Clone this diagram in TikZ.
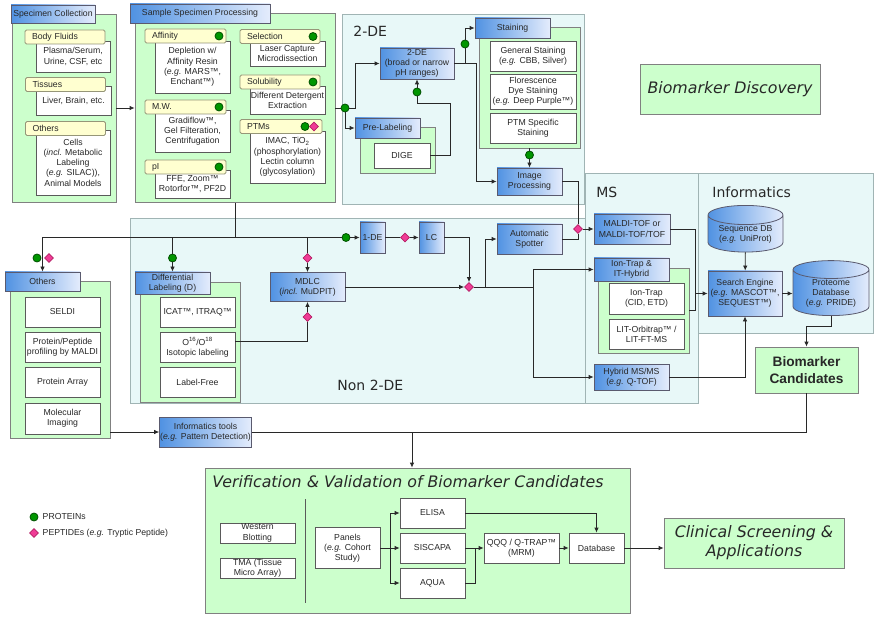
\documentclass[tikz,border=0pt]{standalone}
\usepackage{fontspec}
\setmainfont{Liberation Sans}
\newfontfamily\titlefont{DejaVu Sans}
\usepackage{tikz}
\usetikzlibrary{shapes.geometric, positioning}
\usetikzlibrary{arrows.meta}

\definecolor{grpfill}{RGB}{204,255,204}
\definecolor{grpline}{RGB}{128,128,128}
\definecolor{regfill}{RGB}{232,248,248}
\definecolor{regline}{RGB}{160,180,180}
\definecolor{hdrblue}{RGB}{80,146,226}
\definecolor{hdrlight}{RGB}{228,236,252}
\definecolor{hdrline}{RGB}{90,90,110}
\definecolor{boxline}{RGB}{90,90,90}
\definecolor{tagfill}{RGB}{255,255,208}
\definecolor{tagline}{RGB}{150,150,120}
\definecolor{protfill}{RGB}{0,150,0}
\definecolor{protline}{RGB}{0,80,0}
\definecolor{peptfill}{RGB}{240,60,150}
\definecolor{peptline}{RGB}{180,30,100}
\definecolor{linecol}{RGB}{40,40,40}

\tikzset{
  reg/.style 2 args={draw=regline, fill=regfill, minimum width=#1, minimum height=#2, inner sep=0pt},
  grp/.style 2 args={draw=grpline, fill=grpfill, minimum width=#1, minimum height=#2, inner sep=0pt},
  hdr/.style 2 args={draw=hdrline, left color=hdrblue, right color=hdrlight, minimum width=#1, minimum height=#2, inner sep=0.5pt, align=center},
  wbox/.style 2 args={draw=boxline, fill=white, minimum width=#1, minimum height=#2, inner sep=0.5pt, align=center},
  tag/.style={draw=tagline, fill=tagfill, rounded corners=1.5pt, minimum height=14pt, inner ysep=0pt, inner xsep=7pt, text width=#1, align=left},
  prot/.style={circle, draw=protline, fill=protfill, minimum size=8pt, inner sep=0pt},
  pept/.style={diamond, draw=peptline, fill=peptfill, minimum size=9pt, inner sep=0pt},
  dbase/.style 2 args={cylinder, shape border rotate=90, aspect=0.35, draw=hdrline, left color=hdrblue, right color=hdrlight, minimum width=#1, minimum height=#2, inner sep=0.5pt, align=center},
  ttl/.style={font=\titlefont\fontsize{14}{16}\selectfont, anchor=west, inner sep=0pt},
  bigbox/.style 2 args={draw=grpline, fill=grpfill, minimum width=#1, minimum height=#2, align=center, font=\titlefont\itshape\fontsize{15.8}{19}\selectfont}
}

\begin{document}
\begin{tikzpicture}[x=1pt, y=-1pt, color=linecol, line width=0.8pt,
    font=\fontsize{8.7}{10.2}\selectfont, >={Latex[length=5pt, width=4.5pt]}]
    \useasboundingbox (0,0) rectangle (878,620);

    \node[reg={242}{190}] (r2de) at (463,109) {};
    \node[reg={455}{185}] (rnon) at (357.5,310.5) {};
    \node[reg={113}{230}] (rms) at (641.5,288) {};
    \node[reg={175}{160}] (rinf) at (785.5,253) {};
    \node[ttl] (t2de) at (353,31) {2-DE};
    \node[ttl] (tnon) at (337,385) {Non 2-DE};
    \node[ttl] (tms) at (596,192) {MS};
    \node[ttl] (tinf) at (712,192) {Informatics};

    % specimen collection
    \node[grp={104}{188}] (scpanel) at (64,108) {};
    \node[hdr={84}{18}] (schdr) at (53,14) {Specimen Collection};
    \node[wbox={74}{31}] (bfbox) at (73,56.5) {Plasma/Serum,\\Urine, CSF, etc};
    \node[tag=66pt] (bftag) at (65,37) {Body Fluids};
    \node[wbox={75}{29}] (tisbox) at (73.5,100.5) {Liver, Brain, etc.};
    \node[tag=66pt] (tistag) at (65.5,84.5) {Tissues};
    \node[wbox={74}{65}] (cellbox) at (73,162.5) {Cells\\(\textit{incl.} Metabolic\\Labeling\\(\textit{e.g.} SILAC)),\\Animal Models};
    \node[tag=66pt] (celltag) at (65.5,128.5) {Others};

    % sample specimen processing
    \node[grp={200}{189}] (sppanel) at (235,108) {};
    \node[hdr={140}{19}] (sphdr) at (200,13.5) {Sample Specimen Processing};
    \node[wbox={75}{52}] (afbox) at (192.5,67) {Depletion w/\\Affinity Resin\\(\textit{e.g.} MARS™,\\Enchant™)};
    \node[tag=67pt] (aftag) at (185.5,36) {Affinity};
    \node[wbox={75}{42}] (mwbox) at (192.5,131) {Gradiflow™,\\Gel Filteration,\\Centrifugation};
    \node[tag=67pt] (mwtag) at (185.5,107) {M.W.};
    \node[wbox={75}{28}] (pibox) at (192.5,184) {FFE, Zoom™\\Rotorfor™, PF2D};
    \node[tag=67pt] (pitag) at (185.5,167) {pI};
    \node[wbox={75}{25}] (selbox) at (287.5,53.5) {Laser Capture\\Microdissection};
    \node[tag=66pt] (seltag) at (280,36.5) {Selection};
    \node[wbox={75}{28}] (solbox) at (287.5,100) {Different Detergent\\Extraction};
    \node[tag=66pt] (soltag) at (280,82) {Solubility};
    \node[wbox={75}{52}] (ptmbox) at (287.5,157) {IMAC, TiO\textsubscript{2}\\(phosphorylation)\\Lectin column\\(glycosylation)};
    \node[tag=68pt] (ptmtag) at (281,126.5) {PTMs};
    \node[prot] (afdot) at (219,36) {};
    \node[prot] (mwdot) at (219,107) {};
    \node[prot] (pidot) at (219,167) {};
    \node[prot] (seldot) at (313,36.5) {};
    \node[prot] (soldot) at (313,82) {};
    \node[prot] (ptmdot) at (305,126.5) {};
    \node[pept] (ptmpep) at (314,126.5) {};

    % 2-DE
    \node[hdr={74}{31}] (de2) at (417,63.5) {2-DE\\(broad or narrow\\pH ranges)};
    \node[grp={75}{46}] (prpanel) at (397.5,150) {};
    \node[hdr={65}{20}] (prhdr) at (387.5,128) {Pre-Labeling};
    \node[wbox={56}{25}] (dige) at (402,155.5) {DIGE};
    \node[grp={101}{121}] (stpanel) at (529.5,87.5) {};
    \node[hdr={75}{20}] (sthdr) at (512.5,28) {Staining};
    \node[wbox={86}{30}] (genst) at (533,56) {General Staining\\(\textit{e.g.} CBB, Silver)};
    \node[wbox={86}{35}] (flost) at (533,91.5) {Florescence\\Dye Staining\\(\textit{e.g.} Deep Purple™)};
    \node[wbox={86}{30}] (ptmst) at (533,128) {PTM Specific\\Staining};
    \node[hdr={65}{27}] (imgbox) at (529.5,181.5) {Image\\Processing};
    \node[prot] (dot2a) at (345,108) {};
    \node[prot] (dot2b) at (417,92) {};
    \node[prot] (dot2c) at (465,44) {};
    \node[prot] (dot2d) at (529.5,155) {};

    % non 2-DE
    \node[grp={100}{157}] (othpanel) at (60,359.5) {};
    \node[hdr={75}{19}] (othhdr) at (42.5,281.5) {Others};
    \node[wbox={75}{30}] (seldi) at (62.5,312) {SELDI};
    \node[wbox={75}{30}] (ppmaldi) at (62.5,347) {Protein/Peptide\\profiling by MALDI};
    \node[wbox={75}{30}] (parray) at (62.5,382) {Protein Array};
    \node[wbox={75}{31}] (molim) at (62.5,418.5) {Molecular\\Imaging};
    \node[grp={100}{120}] (dlpanel) at (190,342) {};
    \node[hdr={75}{22}] (dlhdr) at (172.5,283) {Differential\\Labeling (D)};
    \node[wbox={75}{30}] (icat) at (197.5,312) {ICAT™, ITRAQ™};
    \node[wbox={75}{30}] (o16) at (197.5,347) {O\textsuperscript{16}/O\textsuperscript{18}\\Isotopic labeling};
    \node[wbox={75}{30}] (lfree) at (197.5,382) {Label-Free};
    \node[hdr={75}{29}] (mdlc) at (307.5,287) {MDLC\\(\textit{incl.} MuDPIT)};
    \node[hdr={25}{31}] (de1) at (372.5,237.5) {1-DE};
    \node[hdr={25}{31}] (lc) at (431.5,237.5) {LC};
    \node[hdr={65}{30}] (spot) at (529.5,239) {Automatic\\Spotter};
    \node[prot] (othdot) at (37,258) {};
    \node[pept] (othpep) at (49,258) {};
    \node[prot] (dldot) at (172.5,258) {};
    \node[pept] (mdpep) at (307.5,258) {};
    \node[pept] (mdpep2) at (307.5,317) {};
    \node[prot] (de1dot) at (346,237.5) {};
    \node[pept] (lcpep) at (405,237.5) {};
    \node[pept] (nonpep) at (469,287) {};
    \node[pept] (mspep) at (578,229) {};

    % MS and informatics
    \node[hdr={76}{30}] (maldi) at (632,229) {MALDI-TOF or\\MALDI-TOF/TOF};
    \node[grp={91}{85}] (itpanel) at (643.5,310.5) {};
    \node[hdr={75}{23}] (ithdr) at (631.5,269.5) {Ion-Trap \&\\IT-Hybrid};
    \node[wbox={75}{31}] (iontrap) at (646.5,298.5) {Ion-Trap\\(CID, ETD)};
    \node[wbox={75}{30}] (lit) at (646.5,334) {LIT-Orbitrap™ /\\LIT-FT-MS};
    \node[hdr={75}{26}] (hyb) at (631.5,377) {Hybrid MS/MS\\(\textit{e.g.} Q-TOF)};
    \node[dbase={75}{41}] (seqdb) at (745.5,234.5) {Sequence DB\\(\textit{e.g.} UniProt)};
    \node[hdr={74}{45}] (search) at (745,293.5) {Search Engine\\(\textit{e.g.} MASCOT™,\\SEQUEST™)};
    \node[dbase={76}{53}] (protdb) at (831,293.5) {Proteome\\Database\\(\textit{e.g.} PRIDE)};
    \node[grp={103}{46}, align=center, font=\bfseries\fontsize{13.7}{17}\selectfont] (biocand) at (806.5,370) {Biomarker\\Candidates};
    \node[bigbox={180}{50}] (biodisc) at (730,89) {Biomarker Discovery};
    \node[hdr={91}{30}] (infotools) at (205.5,432) {Informatics tools\\(\textit{e.g.} Pattern Detection)};

    % verification
    \node[grp={425}{145}] (vv) at (417.5,540.5) {};
    \node[ttl, font=\titlefont\itshape\fontsize{15.8}{19}\selectfont] (tvv) at (212,482) {Verification \& Validation of Biomarker Candidates};
    \node[wbox={75}{20}] (wblot) at (257.5,533) {Western\\Blotting};
    \node[wbox={75}{20}] (tma) at (257.5,568) {TMA (Tissue\\Micro Array)};
    \draw[boxline] (305,499) -- (305,603);
    \node[wbox={65}{41}] (panels) at (347.5,548) {Panels\\(\textit{e.g.} Cohort\\Study)};
    \node[wbox={65}{30}] (elisa) at (432.5,513) {ELISA};
    \node[wbox={65}{30}] (siscapa) at (432.5,548) {SISCAPA};
    \node[wbox={65}{30}] (aqua) at (432.5,583) {AQUA};
    \node[wbox={75}{30}] (qqq) at (521.5,548) {QQQ / Q-TRAP™\\(MRM)};
    \node[wbox={55}{30}] (dbv) at (596.5,548) {Database};
    \node[bigbox={180}{50}] (clin) at (754,543) {Clinical Screening \&\\Applications};

    \node[prot] (legprot) at (34,517) {};
    \node[anchor=west] (legprottxt) at (39,517) {PROTEINs};
    \node[pept] (legpept) at (34,533) {};
    \node[anchor=west] (legpepttxt) at (39,533) {PEPTIDEs (\textit{e.g.} Tryptic Peptide)};

    % connectors
    \draw[->] (scpanel) -- (sppanel);
    \draw (sppanel) -- (dot2a);
    \draw[->] (dot2a) -- ++(10,0) |- (de2);
    \draw[->] (dot2a) |- (prhdr);
    \coordinate (k1) at (450,103);
    \draw (dige) -| (k1) -| (dot2b);
    \draw[->] (dot2b) -- (de2);
    \coordinate (k2) at (476,63.5);
    \draw[->] (de2) -- (k2) |- (imgbox);
    \draw (dot2c |- de2) -- (dot2c);
    \draw[->] (dot2c) |- (sthdr);
    \draw (stpanel) -- (dot2d);
    \draw[->] (dot2d) -- (imgbox);
    \draw (imgbox) -| (mspep);
    \draw (spot) -| (mspep);
    \draw[->] (mspep) -- (maldi);

    \coordinate (k3) at (235,237.5);
    \coordinate (k4) at (42.5,237.5);
    \draw (sppanel) -- (k3);
    \draw (k4) -- (de1dot);
    \draw[->] (k4) -- (othhdr);
    \draw (dldot |- k4) -- (dldot);
    \draw[->] (dldot) -- (dlhdr);
    \draw (mdpep |- k4) -- (mdpep);
    \draw[->] (mdpep) -- (mdlc);
    \draw[->] (de1dot) -- (de1);
    \draw (de1) -- (lcpep);
    \draw[->] (lcpep) -- (lc);
    \draw[->] (lc) -| (nonpep);
    \draw[->] (mdlc) -- (nonpep);
    \draw ([yshift=6pt]o16.east) -| (mdpep2);
    \draw[->] (mdpep2) -- (mdlc);
    \draw[->] (nonpep) -- ++(16,0) |- (spot);
    \draw[->] (nonpep) -- ++(64,0) |- (ithdr);
    \draw[->] (nonpep) -- ++(64,0) |- (hyb);

    \coordinate (k5) at (695,293.5);
    \draw (maldi) -| (k5);
    \draw (itpanel) -| (k5);
    \draw[->] (k5) -- (search);
    \draw[->] (seqdb) -- (search);
    \draw[->] (search) -- (protdb);
    \draw[->] (hyb) -| (search);
    \draw[->] (protdb.south) -- ++(0,10) -| (biocand);

    \coordinate (k6) at (412,432);
    \draw (biocand) |- (k6);
    \draw (infotools) -- (k6);
    \draw[->] (othpanel.east |- infotools) -- (infotools);
    \draw[->] (k6) -- (k6 |- vv.north);

    \coordinate (k7) at (390,548);
    \draw (panels) -- (k7);
    \draw[->] (k7) |- (elisa);
    \draw[->] (k7) -- (siscapa);
    \draw[->] (k7) |- (aqua);
    \coordinate (k8) at (475,548);
    \draw (siscapa) -- (k8);
    \draw (aqua) -| (k8);
    \draw[->] (k8) -- (qqq);
    \draw[->] (qqq) -- (dbv);
    \draw[->] (elisa) -| (dbv);
    \draw[->] (dbv) -- (dbv -| clin.west);
\end{tikzpicture}
\end{document}
